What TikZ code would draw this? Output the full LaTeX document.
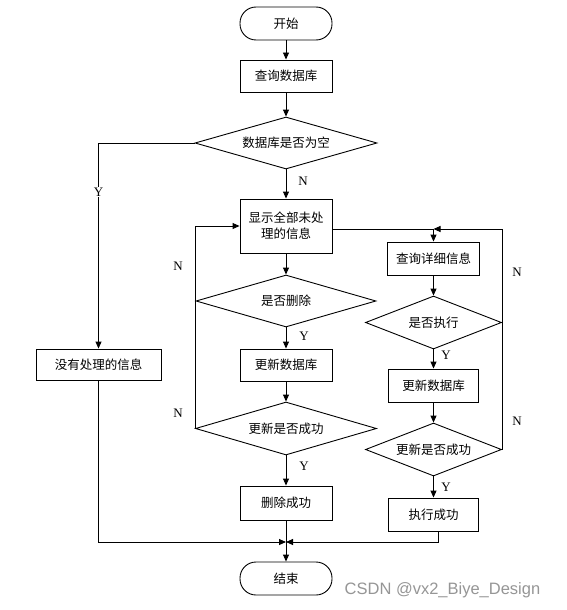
\documentclass[tikz,border=0pt]{standalone}
\usepackage{fontspec}
\setmainfont{Liberation Serif}
\newfontfamily\cjk{Noto Sans CJK SC}
\newfontfamily\wmfont{Liberation Sans}
\usetikzlibrary{shapes.geometric,arrows.meta}
\definecolor{wmgray}{RGB}{150,150,150}
\tikzset{
  base/.style={draw, line width=0.9pt, inner sep=0pt, font=\cjk\fontsize{12.5}{14}\selectfont, align=center},
  box/.style={base, rectangle, minimum width=92pt, minimum height=32pt},
  term/.style={base, rectangle, rounded corners=16pt, minimum width=92pt, minimum height=33pt},
  dia/.style={base, diamond, aspect=3.5},
  conn/.style={line width=0.9pt},
  arr/.style={conn, -{Triangle[length=7pt,width=6pt]}},
  lab/.style={font=\fontsize{13}{15}\selectfont, inner sep=1pt}
}
\begin{document}
\begin{tikzpicture}[x=1pt,y=-1pt]
\useasboundingbox (0,0) rectangle (566,610);
\fill[white] (0,0) rectangle (566,610);
% nodes
\node[term] (start) at (286,23.5) {开始};
\node[box] (q1) at (286,76) {查询数据库};
\node[dia, minimum width=182pt, minimum height=52pt] (d1) at (286,143) {数据库是否为空};
\node[box, minimum width=125pt, minimum height=31pt] (none) at (98.5,364.5) {没有处理的信息};
\node[box, minimum height=54pt] (show) at (286,226) {显示全部未处\\[2pt]理的信息};
\node[dia, minimum width=180pt, minimum height=52pt] (dd) at (286,301) {是否删除};
\node[box] (upd1) at (286,365) {更新数据库};
\node[dia, minimum width=181pt, minimum height=53pt] (succ1) at (286,428.5) {更新是否成功};
\node[box, minimum height=34pt] (delok) at (286,503) {删除成功};
\node[term] (end) at (286,578.5) {结束};
\node[box, minimum height=33pt] (detail) at (433.5,258.5) {查询详细信息};
\node[dia, minimum width=136pt, minimum height=53pt] (exec) at (433.5,322.5) {是否执行};
\node[box, minimum width=90pt, minimum height=33pt] (upd2) at (433.5,385.5) {更新数据库};
\node[dia, minimum width=136pt, minimum height=53pt] (succ2) at (433.5,449.5) {更新是否成功};
\node[box, minimum width=90pt, minimum height=33pt] (execok) at (433.5,514.5) {执行成功};
\coordinate (J) at (286,542);
\coordinate (T) at (433.5,229);
\coordinate (S) at (332,229);
% connectors
\draw[arr] (start) -- (q1);
\draw[arr] (q1) -- (d1);
\draw[arr] (d1) -- (show);
\draw[arr] (d1.west) -| (none.north);
\draw[arr] (show) -- (dd);
\draw[arr] (dd) -- (upd1);
\draw[arr] (upd1) -- (succ1);
\draw[arr] (succ1) -- (delok);
\draw[arr] (delok) -- (end);
\draw[arr] (succ1.west) -- (succ1.west |- show.west) -- (show.west);
\draw[conn] (S) -- (T);
\draw[arr] (T) -- (detail);
\draw[arr] (detail) -- (exec);
\draw[arr] (exec) -- (upd2);
\draw[arr] (upd2) -- (succ2);
\draw[arr] (succ2) -- (execok);
\draw[arr] (succ2.east) |- (T);
\draw[arr] (none.south) |- (J);
\draw[arr] ([xshift=5pt]execok.south) |- (J);
% labels
\node[lab] (lN1) at (303,181) {N};
\node[lab, fill=white] (lY1) at (98.5,192) {Y};
\node[lab] (lN2) at (178,266) {N};
\node[lab] (lN3) at (178,413) {N};
\node[lab] (lY2) at (304,336) {Y};
\node[lab] (lY3) at (304,466) {Y};
\node[lab] (lY4) at (446,355) {Y};
\node[lab] (lY5) at (446,487) {Y};
\node[lab] (lN4) at (517,272) {N};
\node[lab] (lN5) at (517,421) {N};
\node[font=\wmfont\fontsize{16.5}{18}\selectfont, text=wmgray, inner sep=0pt] (wm) at (442.5,590) {CSDN @vx2\_Biye\_Design};
\end{tikzpicture}
\end{document}
